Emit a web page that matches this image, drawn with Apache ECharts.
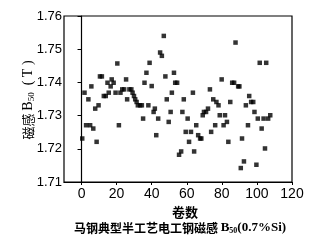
<!DOCTYPE html>
<html><head><meta charset="utf-8">
<script src="https://cdn.jsdelivr.net/npm/echarts@6/dist/echarts.min.js"></script>
<style>html,body{margin:0;padding:0;background:#fff}#c{width:325px;height:242px}</style>
</head><body><div id="c"></div>
<script>
const coilNo = [0.4,1.7,3.9,2.6,4.9,5.6,6.7,7.8,8.6,9.7,10.5,11.6,12.7,13.8,14.8,15.5,16.6,17.2,18.3,19.4,20.4,21.3,22.2,23.2,24.3,25.4,26.0,27.3,28.4,29.1,29.9,30.6,31.4,32.1,33.4,34.4,35.1,35.9,37.0,38.1,38.8,40.0,41.1,41.8,42.6,43.7,44.8,45.8,46.9,47.8,48.6,49.7,50.8,51.5,52.7,53.4,54.5,55.6,56.8,57.5,58.3,59.4,60.5,61.3,62.4,63.5,64.2,65.4,66.5,67.6,68.3,69.1,69.8,71.0,72.1,73.2,73.9,75.1,76.2,76.9,78.1,78.8,79.9,81.0,81.8,82.9,83.7,84.8,85.9,87.0,87.8,89.3,90.0,90.8,91.5,92.6,93.7,94.9,95.6,96.7,97.9,98.6,99.7,100.5,101.6,102.7,103.8,104.6,105.3,106.4,107.6];
const b50 = [1.7231,1.7369,1.7349,1.7271,1.7271,1.7388,1.7261,1.7321,1.7221,1.7331,1.7418,1.7418,1.7359,1.7359,1.7399,1.7369,1.7388,1.7409,1.7399,1.7369,1.7457,1.7271,1.7369,1.7379,1.7379,1.7409,1.7349,1.7379,1.7379,1.7369,1.7359,1.7349,1.7341,1.7331,1.7331,1.7331,1.7291,1.7399,1.7429,1.7331,1.7459,1.7389,1.7311,1.7321,1.7241,1.7291,1.7490,1.7480,1.7540,1.7418,1.7349,1.7281,1.7311,1.7369,1.7429,1.7399,1.7399,1.7182,1.7192,1.7311,1.7349,1.7251,1.7291,1.7221,1.7251,1.7369,1.7192,1.7271,1.7241,1.7231,1.7231,1.7301,1.7311,1.7311,1.7321,1.7379,1.7251,1.7349,1.7271,1.7341,1.7331,1.7301,1.7409,1.7271,1.7301,1.7281,1.7221,1.7341,1.7399,1.7399,1.7520,1.7388,1.7388,1.7142,1.7231,1.7162,1.7331,1.7271,1.7359,1.7341,1.7341,1.7311,1.7152,1.7291,1.7459,1.7261,1.7291,1.7201,1.7459,1.7291,1.7301];
const xTicks = [0,20,40,60,80,100,120];
const yTicks = [1.71,1.72,1.73,1.74,1.75,1.76];
const xName = '卷数';
const yNameParts = ['磁感 ', 'B', '50', '  ( T )'];
const titleParts = ['马钢典型半工艺电工钢磁感 ', 'B', '50', '(0.7%Si)'];

const chart = echarts.init(document.getElementById('c'), null, {renderer:'canvas'});
const pts = coilNo.map((x,i)=>[x,b50[i]]);
const serif = 'Liberation Serif';
const cjk = 'Noto Sans CJK SC';
chart.setOption({
  animation:false,
  grid:{left:64,right:33,top:16,bottom:60,show:false},
  xAxis:{type:'value',min:-10,max:120,interval:10,
    axisLine:{show:true,onZero:false,lineStyle:{color:'#000',width:1.2}},
    axisTick:{show:true,length:3,inside:false,lineStyle:{color:'#000'},customValues:xTicks},
    axisLabel:{color:'#000',fontSize:14,fontFamily:'Liberation Sans',margin:5,customValues:xTicks},
    splitLine:{show:false}
  },
  yAxis:{type:'value',min:1.71,max:1.76,interval:0.01,
    axisLine:{show:true,lineStyle:{color:'#000',width:1.2}},
    axisTick:{show:true,length:4,lineStyle:{color:'#000'}},
    axisLabel:{color:'#000',fontSize:13,fontFamily:'Liberation Sans Narrow, Liberation Sans',margin:2,formatter:v=>v.toFixed(2)},
    splitLine:{show:false}
  },
  graphic:[
    {type:'rect',shape:{x:64,y:16,width:228,height:166},style:{fill:null,stroke:'#000',lineWidth:1.2},silent:true,z:10},
    {type:'text',x:28,y:100,rotation:Math.PI/2,silent:true,
      style:{rich:{c:{fill:'#000',fontSize:13,fontFamily:cjk},l:{fill:'#000',fontSize:14,fontFamily:serif},s:{fill:'#000',fontSize:9,fontFamily:serif,padding:[7,0,0,0]}},
        text:'{c|'+yNameParts[0]+'}{l|'+yNameParts[1]+'}{s|'+yNameParts[2]+'}{l|'+yNameParts[3]+'}',align:'center',verticalAlign:'middle'}},
    {type:'text',x:185,y:212,silent:true,style:{text:xName,fill:'#000',fontSize:13,fontWeight:'bold',fontFamily:cjk,align:'center',verticalAlign:'middle'}},
    {type:'text',x:180,y:228,silent:true,style:{rich:{a:{fill:'#000',fontSize:12,fontWeight:'bold',fontFamily:cjk},l:{fill:'#000',fontSize:13,fontWeight:'bold',fontFamily:serif},s:{fill:'#000',fontSize:8,fontWeight:'bold',fontFamily:serif,padding:[6,0,0,0]}},
      text:'{a|'+titleParts[0]+'}{l|'+titleParts[1]+'}{s|'+titleParts[2]+'}{l|'+titleParts[3]+'}',align:'center',verticalAlign:'middle'}}
  ],
  series:[{type:'scatter',data:pts,symbol:'rect',symbolSize:4.5,itemStyle:{color:'#000'}}]
});
</script></body></html>
